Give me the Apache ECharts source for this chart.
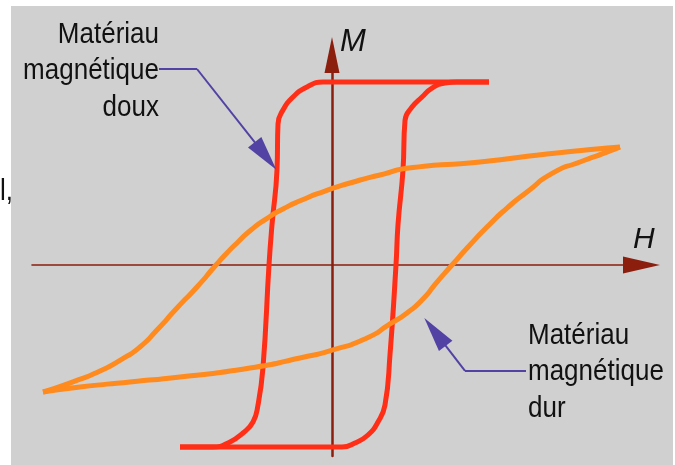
<!DOCTYPE html>
<html>
<head>
<meta charset="utf-8">
<script src="https://cdn.jsdelivr.net/npm/echarts@6/dist/echarts.min.js"></script>
<style>
  html, body { margin: 0; padding: 0; background: #fff; }
  #chart { width: 675px; height: 465px; }
</style>
</head>
<body>
<div id="chart"></div>
<script>
// H (champ) et M (aimantation), M normalisée à la saturation du matériau doux
// matériau doux : branche descendante puis montante
const softDown = [
  [1.57, 1.0], [-0.09, 1.0], [-0.25, 0.973], [-0.39, 0.918], [-0.49, 0.847],
  [-0.54, 0.77], [-0.55, 0.52], [-0.60, 0.22], [-0.63, 0], [-0.69, -0.56],
  [-0.74, -0.765], [-0.79, -0.858], [-0.89, -0.918], [-1.02, -0.967],
  [-1.19, -0.995], [-1.52, -0.995]
];
const softUp = [
  [-1.52, -0.995], [0.10, -0.995], [0.23, -0.973], [0.36, -0.929], [0.46, -0.858],
  [0.53, -0.765], [0.58, -0.49], [0.64, 0], [0.66, 0.22], [0.71, 0.52],
  [0.73, 0.79], [0.80, 0.863], [0.90, 0.918], [1.00, 0.967], [1.13, 0.995],
  [1.25, 1.0], [1.57, 1.0]
];
// matériau dur
const hardDown = [
  [2.88, 0.645], [2.15, 0.607], [1.48, 0.563], [0.81, 0.533], [0.48, 0.492],
  [0.18, 0.448], [-0.07, 0.404], [-0.30, 0.355], [-0.49, 0.306], [-0.66, 0.251],
  [-0.81, 0.191], [-0.94, 0.126], [-1.06, 0.060], [-1.16, 0], [-1.35, -0.120],
  [-1.55, -0.235], [-1.75, -0.355], [-1.92, -0.448], [-2.10, -0.514],
  [-2.32, -0.579], [-2.59, -0.639], [-2.89, -0.694]
];
const hardUp = [
  [-2.89, -0.694], [-2.52, -0.667], [-2.02, -0.639], [-1.52, -0.612], [-0.82, -0.563],
  [-0.32, -0.508], [0.01, -0.464], [0.35, -0.399], [0.58, -0.322], [0.75, -0.262],
  [0.90, -0.191], [1.05, -0.093], [1.20, 0], [1.37, 0.104], [1.56, 0.213],
  [1.75, 0.311], [1.95, 0.399], [2.21, 0.503], [2.48, 0.563], [2.75, 0.617],
  [2.88, 0.645]
];
// flèches des légendes : départ, coude, centre de la pointe
const arrowSoft = [[-1.73, 1.071], [-1.35, 1.071], [-0.665, 0.596]];
const arrowHard = [[1.94, -0.579], [1.33, -0.579], [1.03, -0.366]];

const labelSoft = 'Matériau\nmagnétique\ndoux';
const labelHard = 'Matériau\nmagnétique\ndur';

const axisColor = '#8c1e0e';
const softColor = '#ff2e16';
const hardColor = '#ff8a1e';
const arrowColor = '#5242a4';
const labelFont = '26px Liberation Sans, Arial, sans-serif';
const stretch = 1.17; // le texte d'origine est étiré verticalement

const chart = echarts.init(document.getElementById('chart'));

function curve(data, color, smooth) {
  return {
    type: 'line',
    data: data,
    smooth: smooth,
    symbol: 'none',
    lineStyle: { color: color, width: 5 },
    animation: false,
    silent: true
  };
}

function pointer(p) {
  return {
    type: 'lines',
    coordinateSystem: 'cartesian2d',
    symbol: ['none', 'triangle'],
    symbolSize: [0, [17, 35]],
    lineStyle: { color: arrowColor, width: 2, opacity: 1, curveness: 0 },
    itemStyle: { color: arrowColor },
    data: [
      { coords: [p[0], p[1]], symbol: 'none' },
      { coords: [p[1], p[2]] }
    ],
    animation: false,
    silent: true,
    z: 5
  };
}

function label(text, x, y, align) {
  return {
    type: 'text', x: x, y: y, scaleY: stretch, originX: 0, originY: 0,
    style: { text: text, font: labelFont, fill: '#111', align: align, verticalAlign: 'middle', lineHeight: 36.5 / stretch }
  };
}

const option = {
  backgroundColor: '#ffffff',
  animation: false,
  grid: { left: 32, right: 33.5, top: 55, bottom: 9 },
  xAxis: {
    type: 'value',
    min: -3.0,
    max: 3.095,
    axisLine: {
      onZero: true,
      symbol: ['none', 'triangle'],
      symbolSize: [17, 37],
      lineStyle: { color: axisColor, width: 1.6 }
    },
    axisTick: { show: false },
    axisLabel: { show: false },
    splitLine: { show: false }
  },
  yAxis: {
    type: 'value',
    min: -1.0437,
    max: 1.1475,
    axisLine: {
      onZero: true,
      symbol: ['none', 'triangle'],
      symbolSize: [15, 36],
      lineStyle: { color: axisColor, width: 2.5 }
    },
    axisTick: { show: false },
    axisLabel: { show: false },
    splitLine: { show: false }
  },
  graphic: [
    {
      type: 'rect', z: -10, silent: true,
      shape: { x: 11, y: 6, width: 662, height: 459 },
      style: { fill: '#d0d0d0' }
    },
    label(labelSoft, 159, 71, 'right'),
    label(labelHard, 528, 372, 'left'),
    label('l,', 0, 192, 'left'),
    {
      type: 'text', x: 340, y: 42,
      style: { text: 'M', font: 'italic 31px Liberation Sans, Arial, sans-serif', fill: '#111', align: 'left', verticalAlign: 'middle' }
    },
    {
      type: 'text', x: 633, y: 240,
      style: { text: 'H', font: 'italic 30px Liberation Sans, Arial, sans-serif', fill: '#111', align: 'left', verticalAlign: 'middle' }
    }
  ],
  series: [
    curve(softDown, softColor, 0.5),
    curve(softUp, softColor, 0.5),
    curve(hardDown, hardColor, 0.7),
    curve(hardUp, hardColor, 0.7),
    pointer(arrowSoft),
    pointer(arrowHard)
  ]
};

chart.setOption(option);
</script>
</body>
</html>
